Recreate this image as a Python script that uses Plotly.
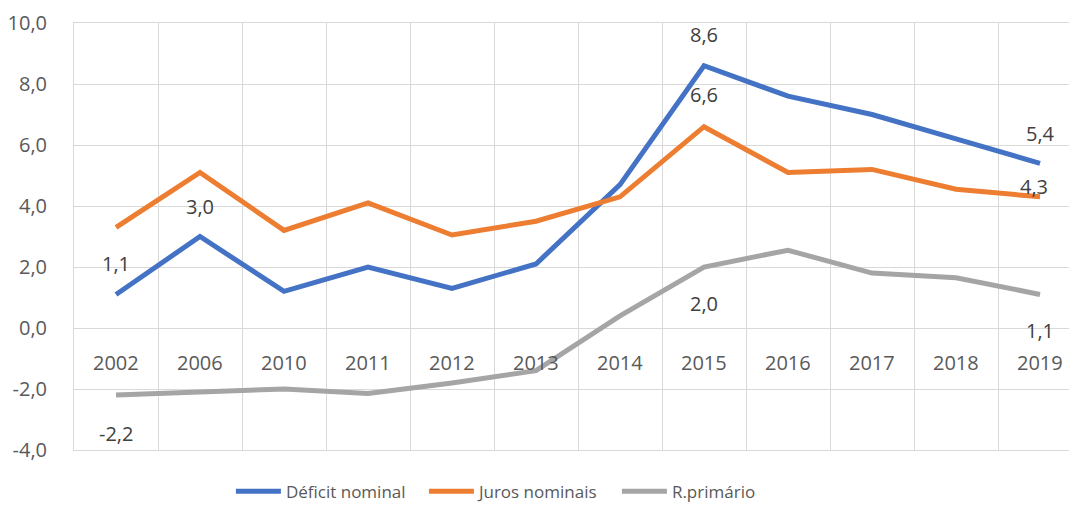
import plotly.graph_objects as go

years = ["2002", "2006", "2010", "2011", "2012", "2013", "2014", "2015", "2016", "2017", "2018", "2019"]
deficit_nominal = [1.1, 3.0, 1.2, 2.0, 1.3, 2.1, 4.7, 8.6, 7.6, 7.0, 6.2, 5.4]
juros_nominais = [3.3, 5.1, 3.2, 4.1, 3.05, 3.5, 4.3, 6.6, 5.1, 5.2, 4.55, 4.3]
r_primario = [-2.2, -2.1, -2.0, -2.15, -1.8, -1.4, 0.4, 2.0, 2.55, 1.8, 1.65, 1.1]
y_ticks = [-4, -2, 0, 2, 4, 6, 8, 10]

series = [
    ("Déficit nominal", deficit_nominal, "#4472C4"),
    ("Juros nominais", juros_nominais, "#ED7D31"),
    ("R.primário", r_primario, "#A5A5A5"),
]

# (series index, point index, vertical pixel offset, horizontal pixel offset)
data_labels = [
    (0, 0, 31, 0), (0, 1, 30, 0), (0, 7, 31, 0), (0, 11, 30, 0),
    (1, 7, 32, 0), (1, 11, 10, -6),
    (2, 0, -38, 0), (2, 7, -36, 0), (2, 11, -36, 0),
]


def fmt(v):
    return f"{v:.1f}".replace(".", ",")


FONT = "Open Sans"
fig = go.Figure()
for name, vals, color in series:
    fig.add_trace(go.Scatter(
        x=list(range(len(years))), y=vals, name=name, mode="lines",
        line=dict(color=color, width=5),
        hoverinfo="skip",
    ))

annotations = []
for si, pi, off, xoff in data_labels:
    v = series[si][1][pi]
    annotations.append(dict(
        x=pi, y=v, xref="x", yref="y",
        text=fmt(v), showarrow=False,
        yshift=off, xshift=xoff, font=dict(family=FONT, size=20, color="#404040"),
    ))
for i, y in enumerate(years):
    annotations.append(dict(
        x=i, y=0, xref="x", yref="y", text=y, showarrow=False,
        yshift=-34, font=dict(family=FONT, size=20, color="#595959"),
    ))

grid = "#D9D9D9"
fig.update_layout(
    width=1069, height=506,
    margin=dict(l=74, r=0, t=23, b=56, autoexpand=False),
    paper_bgcolor="white", plot_bgcolor="white",
    font=dict(family=FONT, size=20, color="#595959"),
    xaxis=dict(
        range=[-0.5, 11.345],
        tickmode="array", tickvals=[i - 0.5 for i in range(len(years))],
        showgrid=True, gridcolor=grid, gridwidth=1,
        showticklabels=False, ticks="",
        showline=True, linecolor=grid, linewidth=1, mirror=True,
        zeroline=False, automargin=False,
    ),
    yaxis=dict(
        range=[-4, 10], tickmode="array", tickvals=y_ticks,
        ticktext=[fmt(t) for t in y_ticks],
        showgrid=True, gridcolor=grid, gridwidth=1,
        showline=True, linecolor=grid, linewidth=1,
        zeroline=False, ticks="", ticklabelstandoff=22,
        automargin=False,
        tickfont=dict(family=FONT, size=20, color="#595959"),
    ),
    legend=dict(
        orientation="h", xref="container", yref="container",
        x=0.216, xanchor="left", y=0.064, yanchor="top",
        font=dict(family=FONT, size=17, color="#595959"),
        itemwidth=45, tracegroupgap=0,
        entrywidth=133, entrywidthmode="pixels",
    ),
    annotations=annotations,
    showlegend=True,
)

fig.write_html("out.html", config={"displayModeBar": False},
               post_script="document.body.style.margin='0';")
